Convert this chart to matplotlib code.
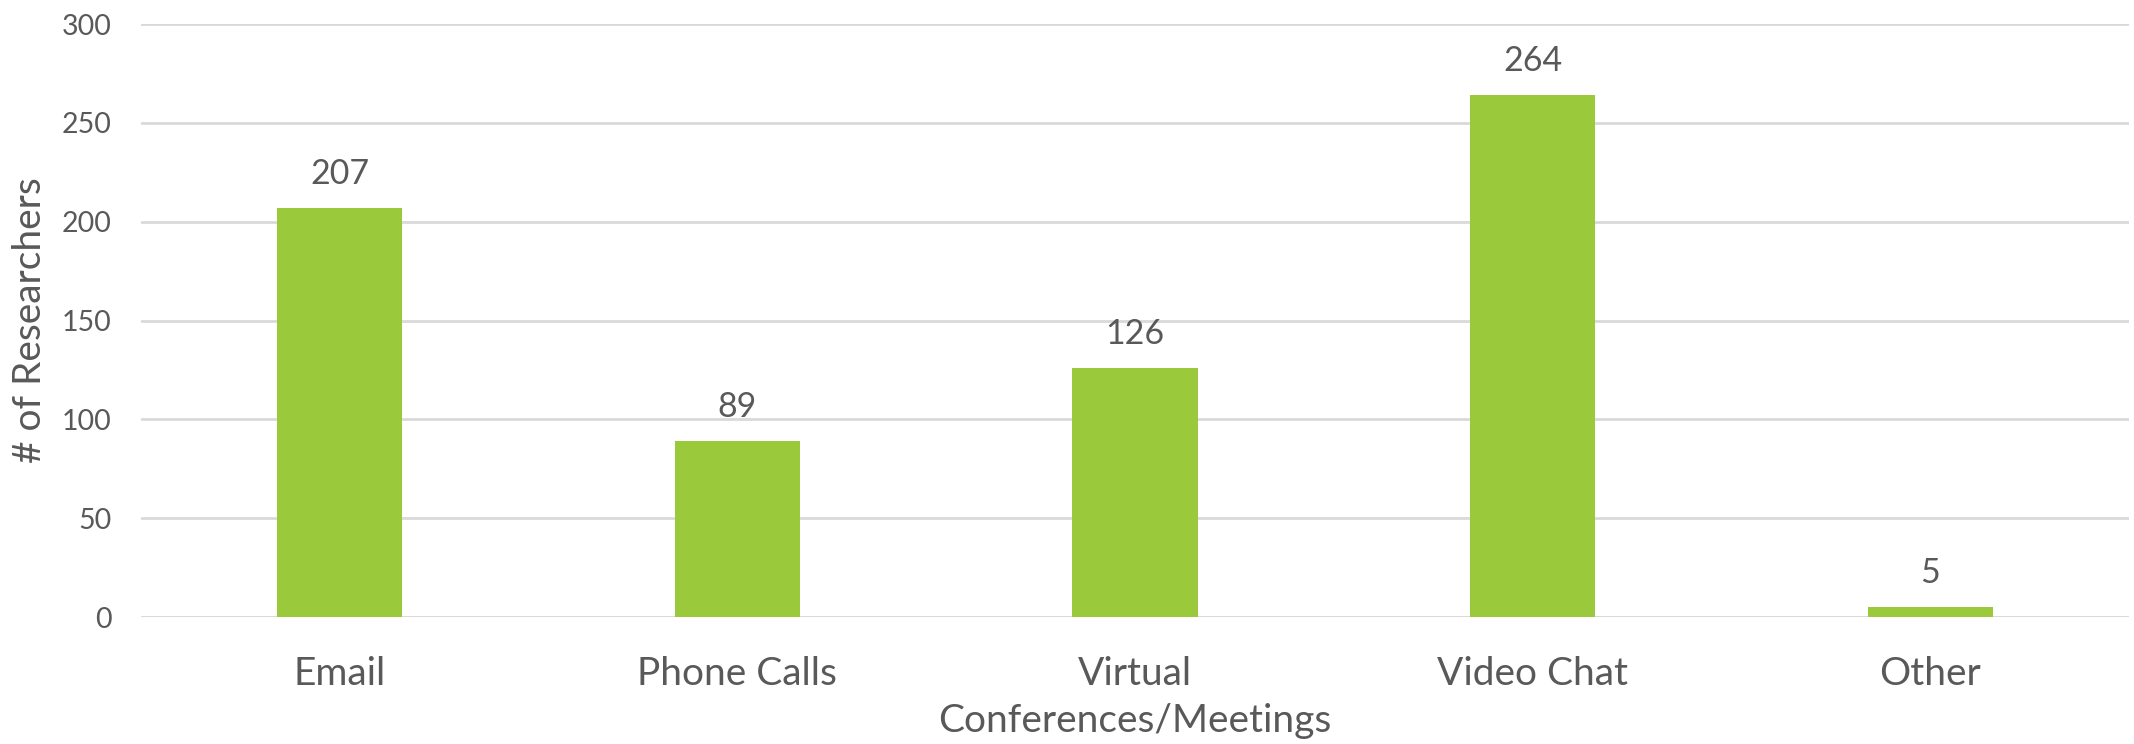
import matplotlib
matplotlib.use("Agg")
import matplotlib.pyplot as plt

categories = ["Email", "Phone Calls", "Virtual\nConferences/Meetings", "Video Chat", "Other"]
values = [207, 89, 126, 264, 5]
yticks = [0, 50, 100, 150, 200, 250, 300]

TEXT = "#595959"
BAR = "#9ACA3C"
GRID = "#D9D9D9"

plt.rcParams['font.family'] = ['Lato', 'DejaVu Sans']

fig = plt.figure(figsize=(21.34, 7.44), dpi=100)
ax = fig.add_axes([141/2134, (744-617)/744, (2129-141)/2134, (617-24)/744])

x = list(range(len(categories)))
bars = ax.bar(x, values, width=0.315, color=BAR, zorder=3)
ax.set_xlim(-0.5, len(categories) - 0.5)
ax.set_ylim(0, 300)
ax.set_yticks(yticks)
ax.set_yticklabels([str(v) for v in yticks], fontsize=20.5, color=TEXT)
ax.set_xticks(x)
ax.set_xticklabels(categories, fontsize=28, color=TEXT, linespacing=1.38)
ax.tick_params(axis='x', length=0, pad=28)
ax.tick_params(axis='y', length=0, pad=21)

for b, v in zip(bars, values):
    ax.annotate(str(v), (b.get_x() + b.get_width()/2, v), xytext=(0, 13),
                textcoords='offset points', ha='center', va='bottom',
                fontsize=24.5, color=TEXT)

ax.yaxis.grid(True, color=GRID, linewidth=2, zorder=0)
for s in ax.spines.values():
    s.set_visible(False)
ax.axhline(0, color=GRID, linewidth=2, zorder=2)

fig.text(30/2134, 0.5*(744-617+744-24)/744 , "# of Researchers", rotation=90,
         fontsize=28, color=TEXT, ha='center', va='center')

fig.savefig("out.png", dpi=100, facecolor="white")
